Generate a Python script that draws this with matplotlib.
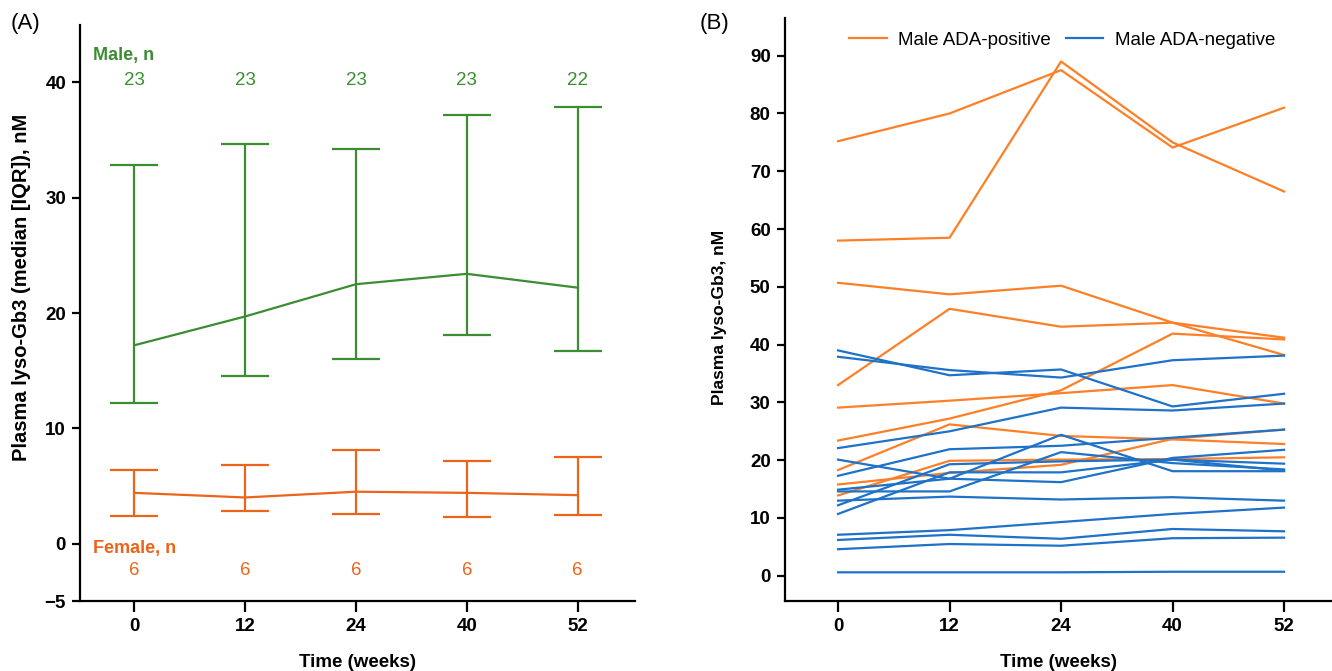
import numpy as np
import matplotlib
matplotlib.use("Agg")
import matplotlib.pyplot as plt

plt.rcParams['font.family'] = ['Liberation Sans', 'DejaVu Sans']

weeks = ['0', '12', '24', '40', '52']

# panel A: median and IQR
male_med = [17.2, 19.7, 22.5, 23.4, 22.2]
male_q1 = [12.2, 14.5, 16.0, 18.1, 16.7]
male_q3 = [32.8, 34.7, 34.2, 37.2, 37.9]
male_n = [23, 23, 23, 23, 22]
fem_med = [4.4, 4.0, 4.5, 4.4, 4.2]
fem_q1 = [2.4, 2.8, 2.6, 2.3, 2.5]
fem_q3 = [6.4, 6.8, 8.1, 7.2, 7.5]
fem_n = [6, 6, 6, 6, 6]

# panel B: individual patients
ada_pos = [
    [75.2, 80.0, 87.5, 74.1, 81.0],
    [58.0, 58.5, 89.0, 75.0, 66.5],
    [50.7, 48.7, 50.2, 43.8, 38.2],
    [33.0, 46.2, 43.1, 43.8, 41.2],
    [29.1, 30.3, 31.6, 33.0, 29.8],
    [23.4, 27.2, 32.1, 41.9, 40.9],
    [18.3, 26.2, 24.2, 23.6, 22.8],
    [15.8, 17.8, 19.2, 23.7, 25.3],
    [13.9, 19.9, 20.1, 20.2, 20.5],
]
ada_neg = [
    [39.0, 34.7, 35.7, 29.3, 31.5],
    [37.9, 35.6, 34.3, 37.3, 38.1],
    [22.1, 25.0, 29.1, 28.6, 29.8],
    [17.3, 21.9, 22.5, 23.9, 25.3],
    [20.1, 16.8, 16.2, 20.4, 21.8],
    [14.9, 16.8, 24.4, 18.1, 18.1],
    [14.6, 14.6, 21.4, 19.5, 18.4],
    [12.2, 19.3, 19.8, 20.1, 19.4],
    [10.7, 17.9, 17.9, 20.1, 18.2],
    [13.0, 13.7, 13.2, 13.6, 13.0],
    [7.1, 7.9, 9.3, 10.7, 11.8],
    [6.2, 7.1, 6.4, 8.1, 7.7],
    [4.6, 5.5, 5.2, 6.5, 6.6],
    [0.6, 0.6, 0.6, 0.7, 0.7],
]

green = '#3b8d32'
red_orange = '#ec6419'
orange = '#fd7f26'
blue = '#1e72c8'

x = np.arange(len(weeks))

fig = plt.figure(figsize=(13.32, 6.71), dpi=100)
axA = fig.add_axes([0.060, 0.104, 0.417, 0.859])
axB = fig.add_axes([0.589, 0.104, 0.411, 0.869])


def style(ax):
    for s in ['top', 'right']:
        ax.spines[s].set_visible(False)
    for s in ['left', 'bottom']:
        ax.spines[s].set_linewidth(1.6)
    ax.tick_params(axis='both', width=1.6, length=6, labelsize=13.5, pad=4)
    ax.tick_params(axis='x', length=8)
    for lab in ax.get_xticklabels() + ax.get_yticklabels():
        lab.set_fontweight('bold')
    ax.set_xticks(x)
    ax.set_xticklabels(weeks, fontweight='bold')
    ax.set_xlabel('Time (weeks)', fontsize=13.5, fontweight='bold', labelpad=14)


# ---- panel A
m = np.array(male_med)
f = np.array(fem_med)
axA.errorbar(x, m, yerr=[m - np.array(male_q1), np.array(male_q3) - m],
             color=green, lw=1.6, capsize=17, capthick=1.6, elinewidth=1.6)
axA.errorbar(x, f, yerr=[f - np.array(fem_q1), np.array(fem_q3) - f],
             color=red_orange, lw=1.6, capsize=17, capthick=1.6, elinewidth=1.6)
axA.set_xlim(-0.49, 4.52)
axA.set_ylim(-5, 45)
axA.set_yticks([-5, 0, 10, 20, 30, 40])
axA.set_yticklabels(['\u22125', '0', '10', '20', '30', '40'])
style(axA)
axA.set_ylabel('Plasma lyso-Gb3 (median [IQR]), nM', fontsize=14.5, fontweight='bold')
axA.yaxis.set_label_coords(-0.088, 0.545)

axA.text(-0.37, 42.3, 'Male, n', color=green, fontsize=13, fontweight='bold', va='center')
axA.text(-0.37, -0.4, 'Female, n', color=red_orange, fontsize=13, fontweight='bold', va='center')
for i in range(len(weeks)):
    axA.text(x[i], 40.2, str(male_n[i]), color=green, fontsize=13.5, ha='center', va='center')
    axA.text(x[i], -2.3, str(fem_n[i]), color=red_orange, fontsize=13.5, ha='center', va='center')

fig.text(0.008, 0.965, '(A)', fontsize=16, va='center')
fig.text(0.525, 0.965, '(B)', fontsize=16, va='center')

# ---- panel B
for k, row in enumerate(ada_pos):
    axB.plot(x, row, color=orange, lw=1.6, label='Male ADA-positive' if k == 0 else None)
for k, row in enumerate(ada_neg):
    axB.plot(x, row, color=blue, lw=1.6, label='Male ADA-negative' if k == 0 else None)
axB.set_xlim(-0.48, 4.43)
axB.set_ylim(-4.4, 96.5)
axB.set_yticks(np.arange(0, 91, 10))
style(axB)
axB.set_ylabel('Plasma lyso-Gb3, nM', fontsize=12.5, fontweight='bold')
axB.yaxis.set_label_coords(-0.105, 0.486)
axB.legend(loc='center', bbox_to_anchor=(0.507, 0.962), ncol=2, frameon=False,
           fontsize=13.5, handlelength=2.0, columnspacing=0.8, handletextpad=0.6)

fig.savefig('out.png', dpi=100)
